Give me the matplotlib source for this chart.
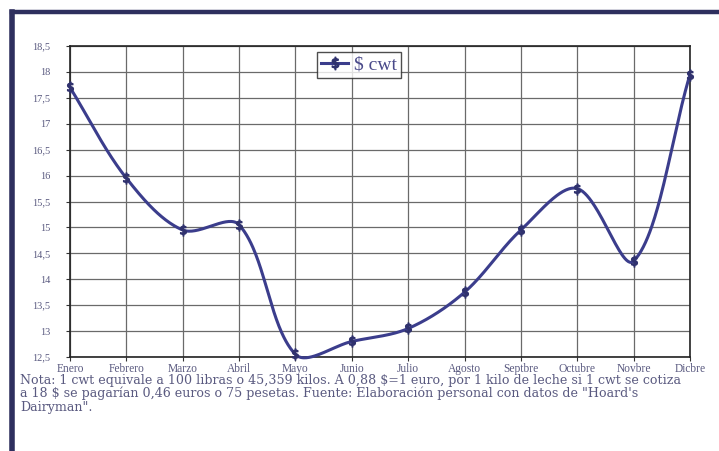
import numpy as np
import matplotlib
matplotlib.use("Agg")
import matplotlib.pyplot as plt
from matplotlib.lines import Line2D

# Monthly milk price, US$ per cwt
meses = ["Enero", "Febrero", "Marzo", "Abril", "Mayo", "Junio", "Julio",
         "Agosto", "Septbre", "Octubre", "Novbre", "Dicbre"]
precio_cwt = [17.7, 15.95, 14.95, 15.05, 12.55, 12.8, 13.05,
              13.75, 14.95, 15.75, 14.35, 17.95]
y_ticks = [12.5, 13, 13.5, 14, 14.5, 15, 15.5, 16, 16.5, 17, 17.5, 18, 18.5]
y_tick_labels = ["12,5", "13", "13,5", "14", "14,5", "15", "15,5", "16",
                 "16,5", "17", "17,5", "18", "18,5"]
serie = "$ cwt"
nota = ("Nota: 1 cwt equivale a 100 libras o 45,359 kilos. A 0,88 $=1 euro, por 1 kilo de leche si 1 cwt se cotiza\n"
        "a 18 $ se pagarían 0,46 euros o 75 pesetas. Fuente: Elaboración personal con datos de \"Hoard's\n"
        "Dairyman\".")

LINE = "#3b3d8c"
TEXT = "#5a5a80"
SERIF = ["Liberation Serif", "DejaVu Serif"]


def smooth_display(P, n=60):
    """Bezier smoothing in screen space, control arms weighted by segment length."""
    Q = np.vstack([P[0], P, P[-1]])
    pts = []
    t = np.linspace(0, 1, n)[:, None]
    for i in range(1, len(Q) - 2):
        p0, p1, p2, p3 = Q[i - 1], Q[i], Q[i + 1], Q[i + 2]
        d01 = np.hypot(*(p1 - p0))
        d12 = np.hypot(*(p2 - p1))
        d23 = np.hypot(*(p3 - p2))
        f1 = d12 / (d01 + d12) / 3 if d01 + d12 > 0 else 0
        f2 = d12 / (d12 + d23) / 3 if d12 + d23 > 0 else 0
        c1 = p1 + (p2 - p0) * f1
        c2 = p2 - (p3 - p1) * f2
        b = (1 - t) ** 3 * p1 + 3 * (1 - t) ** 2 * t * c1 \
            + 3 * (1 - t) * t ** 2 * c2 + t ** 3 * p2
        pts.append(b)
    return np.vstack(pts)


fig = plt.figure(figsize=(7.19, 4.51), dpi=100)
fig.patch.set_facecolor("white")

# outer frame: heavy navy rule on top and left
fig.add_artist(Line2D([12 / 719, 1.0], [1 - 11.5 / 451] * 2, color="#2e2f5e",
                      lw=3.2, transform=fig.transFigure))
fig.add_artist(Line2D([12 / 719] * 2, [0, 1 - 11.5 / 451], color="#2e2f5e",
                      lw=4.0, transform=fig.transFigure))

ax = fig.add_axes([70 / 719, 1 - 357 / 451, 620 / 719, 311 / 451])
x = np.arange(len(meses))
ax.set_xlim(0, len(meses) - 1)
ax.set_ylim(12.5, 18.5)

disp = ax.transData.transform(np.column_stack([x, precio_cwt]))
curve = ax.transData.inverted().transform(smooth_display(disp))
ax.plot(curve[:, 0], curve[:, 1], color=LINE, lw=2.2, zorder=3,
        solid_capstyle="round", clip_on=False)
ax.plot(x, precio_cwt, linestyle="none", marker=r"$\$$", markersize=8,
        color="#30326e", zorder=4, clip_on=False)

ax.set_yticks(y_ticks)
ax.set_yticklabels(y_tick_labels, fontfamily=SERIF, fontsize=7.5, color=TEXT)
ax.set_xticks(x)
ax.set_xticklabels(meses, fontfamily=SERIF, fontsize=8.3, color=TEXT)
ax.tick_params(axis="both", length=3, width=0.8, color="#333333")
ax.tick_params(axis="y", pad=11)
ax.tick_params(axis="x", pad=1.5)
ax.grid(True, color="#6a6a6a", lw=0.9)
ax.set_axisbelow(True)
for s in ax.spines.values():
    s.set_color("#222222")
    s.set_linewidth(1.2)

handle = Line2D([], [], color=LINE, lw=2.2, marker=r"$\$$", markersize=9,
                markeredgecolor="#30326e", markerfacecolor="#30326e")
leg = ax.legend([handle], [serie], loc="upper center",
                bbox_to_anchor=(0.466, 0.982), borderaxespad=0, frameon=True,
                fancybox=False, prop={"family": SERIF, "size": 14},
                handlelength=1.4, handletextpad=0.3, borderpad=0.22,
                labelcolor="#4a4a8a")
leg.get_frame().set_edgecolor("#222222")
leg.get_frame().set_linewidth(1.0)

fig.text(20 / 719, 1 - 374 / 451, nota, fontfamily=["DejaVu Serif"], fontsize=9.1,
         color=TEXT, va="top", ha="left", linespacing=1.0)

fig.savefig("out.png", dpi=100, facecolor="white")
